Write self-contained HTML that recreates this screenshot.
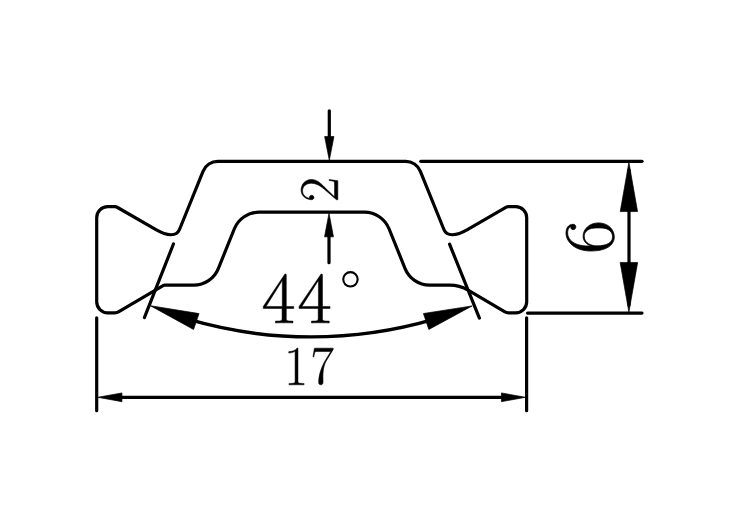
<!DOCTYPE html>
<html><head><meta charset="utf-8"><style>
html,body{margin:0;padding:0;background:#fff;}
body{width:737px;height:519px;overflow:hidden;font-family:"Liberation Serif", serif;}
svg{display:block;}
</style></head><body>
<svg width="737" height="519" viewBox="0 0 737 519">
<rect width="737" height="519" fill="#fff"/>
<path d="M96.70,301.80 A11.00,11.00 0 0 0 107.70,312.80 L114.82,312.80 A8.00,8.00 0 0 0 118.88,311.69 L163.53,285.38 A2.00,2.00 0 0 1 164.55,285.10 L193.74,285.10 A26.50,26.50 0 0 0 218.31,268.53 L234.37,228.77 A26.50,26.50 0 0 1 258.94,212.20 L364.46,212.20 A26.50,26.50 0 0 1 389.03,228.77 L405.09,268.53 A26.50,26.50 0 0 0 429.66,285.10 L449.85,285.10 A35.00,35.00 0 0 1 467.62,289.95 L504.52,311.69 A8.00,8.00 0 0 0 508.58,312.80 L515.70,312.80 A11.00,11.00 0 0 0 526.70,301.80 L526.70,217.70 A11.00,11.00 0 0 0 515.70,206.70 L508.27,206.70 A4.00,4.00 0 0 0 506.27,207.24 L467.45,229.65 C456.02,236.25 446.83,236.75 443.90,229.52 L420.38,171.31 A16.00,16.00 0 0 0 405.55,161.30 L217.85,161.30 A16.00,16.00 0 0 0 203.02,171.31 L179.50,229.52 C176.57,236.75 167.38,236.25 155.95,229.65 L117.13,207.24 A4.00,4.00 0 0 0 115.13,206.70 L107.70,206.70 A11.00,11.00 0 0 0 96.70,217.70 Z" fill="none" stroke="#000" stroke-width="3.2" stroke-linejoin="round"/>
<path d="M187.93,319.17 A437.50,437.50 0 0 0 434.49,319.17" fill="none" stroke="#000" stroke-width="3.4"/>
<g stroke="#000" stroke-linecap="round">
<line x1="420.8" y1="161.3" x2="642.0" y2="161.3" stroke-width="3.2"/>
<line x1="527.5" y1="313.1" x2="642.0" y2="313.1" stroke-width="3.2"/>
<line x1="629.0" y1="170" x2="629.0" y2="305" stroke-width="3.2"/>
<line x1="329.3" y1="110.8" x2="329.3" y2="140" stroke-width="3.2"/>
<line x1="329.0" y1="233" x2="329.0" y2="262.7" stroke-width="3.2"/>
<line x1="96.7" y1="317.8" x2="96.7" y2="410.7" stroke-width="3.2"/>
<line x1="526.6" y1="317.8" x2="526.6" y2="410.7" stroke-width="3.2"/>
<line x1="110" y1="397.3" x2="512" y2="397.3" stroke-width="3.2"/>
<line x1="173.45" y1="244.0" x2="144.4" y2="317.6" stroke-width="3.2"/>
<line x1="449.55" y1="244.2" x2="479.4" y2="318.1" stroke-width="3.2"/>
</g>
<g fill="#000" stroke="#000" stroke-width="0.7" stroke-linejoin="round">
<path d="M628.90,162.30 L637.55,211.55 L620.25,211.55 Z"/>
<path d="M628.90,312.10 L620.15,262.45 L637.65,262.45 Z"/>
<path d="M329.30,160.20 L324.65,136.55 L333.95,136.55 Z"/>
<path d="M329.00,213.20 L333.45,236.85 L324.55,236.85 Z"/>
<path d="M97.80,397.30 L121.95,392.95 L121.95,401.65 Z"/>
<path d="M525.60,397.30 L501.45,401.65 L501.45,392.95 Z"/>
<path d="M150.30,305.70 L199.04,313.58 L193.57,329.47 Z"/>
<path d="M472.20,305.90 L428.82,329.47 L423.43,313.56 Z"/>
</g>
<circle cx="350.45" cy="279.3" r="7.2" fill="none" stroke="#000" stroke-width="2.1"/>
<g fill="#000">
<path transform="matrix(0.072967,0,0,-0.073094,261.791,322.950)" d="M336 647C336 668 335 669 317 669L20 226V198H278V72C278 36 276 26 206 26H187V0C219 2 273 2 307 2C341 2 395 2 427 0V26H408C338 26 336 36 336 72V198H438V226H336ZM281 581V226H59Z" stroke="#000" stroke-width="0.5" vector-effect="non-scaling-stroke"/>
<path transform="matrix(0.074163,0,0,-0.073094,297.567,322.950)" d="M336 647C336 668 335 669 317 669L20 226V198H278V72C278 36 276 26 206 26H187V0C219 2 273 2 307 2C341 2 395 2 427 0V26H408C338 26 336 36 336 72V198H438V226H336ZM281 581V226H59Z" stroke="#000" stroke-width="0.5" vector-effect="non-scaling-stroke"/>
<path transform="matrix(0.051515,0,0,-0.055825,284.268,384.850)" d="M266 639C266 660 265 661 251 661C212 614 153 599 97 597C94 597 89 597 88 595C87 593 87 591 87 570C118 570 170 576 210 600V73C210 38 208 26 122 26H92V0C140 1 190 2 238 2C286 2 336 1 384 0V26H354C268 26 266 37 266 73Z" stroke="#000" stroke-width="0.5" vector-effect="non-scaling-stroke"/>
<path transform="matrix(0.049877,0,0,-0.055371,310.706,383.914)" d="M451 623V645H216C99 645 97 645 93 645H75L46 490H64C67 509 74 560 86 579C92 587 166 587 183 587H403L292 422C218 311 160 161 160 30C160 16 163 -16 203 -16C243 -16 246 16 246 31V77C239 241 267 349 313 418Z" stroke="#000" stroke-width="0.6" vector-effect="non-scaling-stroke"/>
<path transform="matrix(0,-0.053723,-0.055522,0,337.800,201.903)" d="M417 155H399C389 84 381 72 377 66C372 58 300 58 286 58H94C130 97 200 168 285 250C346 308 417 376 417 475C417 593 323 661 218 661C108 661 41 564 41 474C41 435 70 430 82 430C92 430 122 436 122 471C122 502 96 511 82 511C76 511 70 510 66 508C85 593 143 635 204 635C291 635 348 566 348 475C348 388 297 313 240 248L41 23V0H393Z" stroke="#000" stroke-width="0.6" vector-effect="non-scaling-stroke"/>
<path transform="matrix(0,-0.073560,-0.071344,0,613.158,253.795)" d="M106 345C106 584 218 638 283 638C304 638 355 634 375 595C359 595 329 595 329 560C329 533 351 524 365 524C374 524 401 528 401 562C401 625 351 661 282 661C163 661 38 537 38 316C38 44 151 -16 231 -16C328 -16 420 71 420 205C420 330 339 421 237 421C176 421 131 381 106 311ZM231 8C108 8 108 192 108 229C108 301 142 405 235 405C252 405 301 405 334 336C352 297 352 256 352 206C352 152 352 112 331 72C309 31 277 8 231 8Z" stroke="#000" stroke-width="0.8" vector-effect="non-scaling-stroke"/>
</g>
</svg>
</body></html>
